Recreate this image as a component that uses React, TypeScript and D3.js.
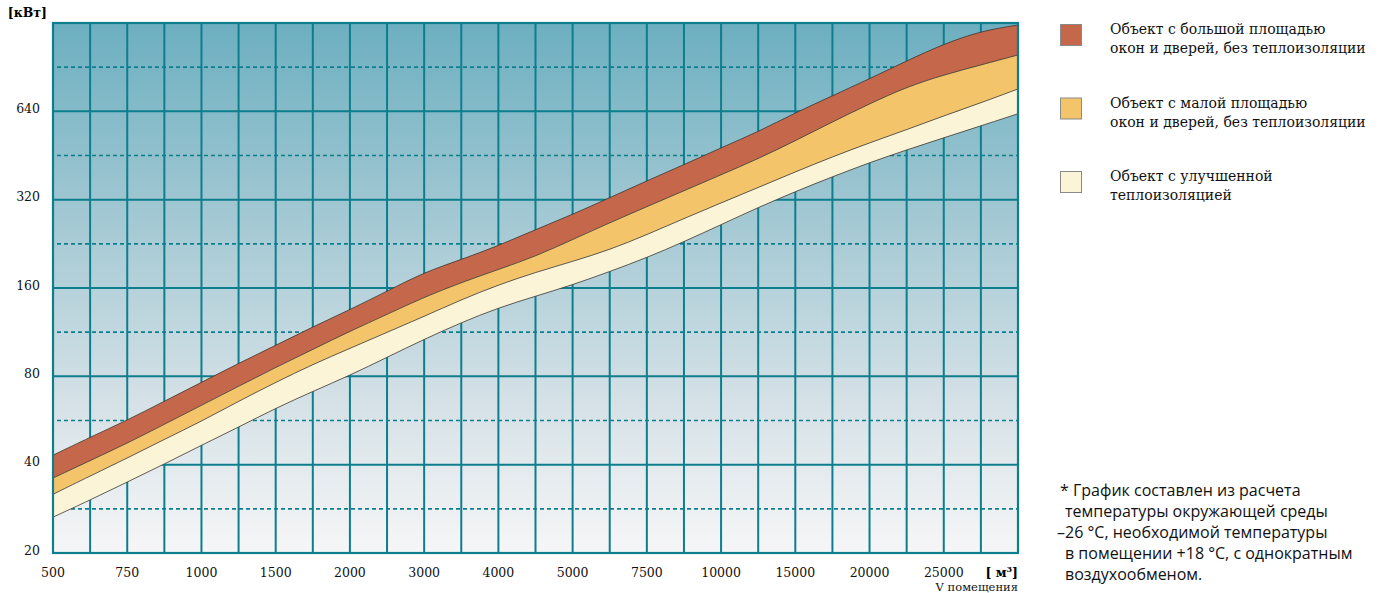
import React from "react";
import * as d3 from "d3";

// x categories (room volume, m³) — evenly spaced, not proportional
const volumeLabels = ["500", "750", "1000", "1500", "2000", "3000", "4000", "5000", "7500", "10000", "15000", "20000", "25000"];
const kwTicks = [20, 40, 80, 160, 320, 640];

// curve boundaries in kW, read every half category step (0, 0.5 … 13)
const bigWindowsTop = [43.1, 49.6, 56.7, 65.8, 76.3, 88.6, 102, 118, 135, 156, 181, 200, 223, 253, 285, 325, 371, 421, 481, 545, 633, 723, 826, 951, 1086, 1202, 1260];
const bigToSmall = [36.0, 41.3, 47.3, 54.9, 63.7, 74.0, 85.8, 98.8, 114, 130, 149, 167, 185, 205, 234, 267, 303, 343, 389, 441, 508, 589, 679, 775, 852, 921, 996];
const smallToInsulated = [31.7, 36.6, 42.1, 48.8, 56.2, 65.8, 76.3, 87.9, 99.6, 113, 128, 146, 164, 181, 197, 216, 243, 276, 312, 352, 398, 448, 500, 554, 618, 684, 763];
const insulatedBottom = [26.5, 30.3, 34.9, 40.2, 46.6, 53.7, 62.3, 71.1, 80.6, 92.9, 107, 122, 137, 150, 164, 182, 203, 230, 263, 301, 341, 383, 428, 473, 520, 571, 628];

const legendItems = [
    { color: "#c4674a", lines: ["Объект с большой площадью", "окон и дверей, без теплоизоляции"] },
    { color: "#f4c46a", lines: ["Объект с малой площадью", "окон и дверей, без теплоизоляции"] },
    { color: "#fbf4d6", lines: ["Объект с улучшенной", "теплоизоляцией"] },
];

const noteLines = [
    { text: "* График составлен из расчета", dx: 0 },
    { text: "температуры окружающей среды", dx: 5 },
    { text: "–26 °C, необходимой температуры", dx: -3 },
    { text: "в помещении +18 °C, с однократным", dx: 5 },
    { text: "воздухообменом.", dx: 5 },
];

const W = 1398;
const H = 593;
const left = 53;
const right = 1018;
const top = 23;
const bottom = 553;
const gridColor = "#0d7e8d";
const serif = "'DejaVu Serif', 'Liberation Serif', serif";

const App = () => {
    const x = d3.scaleLinear().domain([0, 13]).range([left, right]);
    const y = d3.scaleLog().base(2).domain([20, 1280]).range([bottom, top]);

    const pos = bigWindowsTop.map((_, i) => i * 0.5);
    const idx = pos.map((_, i) => i);

    const band = (upper: number[], lower: number[]) =>
        d3
            .area<number>()
            .x((d) => x(pos[d]))
            .y0((d) => y(lower[d]))
            .y1((d) => y(upper[d]))
            .curve(d3.curveBasis)(idx) || "";

    const line = (vals: number[]) =>
        d3
            .line<number>()
            .x((d) => x(pos[d]))
            .y((d) => y(vals[d]))
            .curve(d3.curveBasis)(idx) || "";

    const verticals = d3.range(0, 13.5, 0.5);
    const solidY = [40, 80, 160, 320, 640];
    const dashedY = [20, 40, 80, 160, 320, 640].map((v) => v * Math.SQRT2);

    return (
        <div style={{ position: "absolute", left: 0, top: 0 }}>
            <svg width={W} height={H} style={{ display: "block" }}>
                <defs>
                    <linearGradient id="bg" x1="0" y1="0" x2="0" y2="1">
                        <stop offset="0%" stopColor="#6cafc0" />
                        <stop offset="35%" stopColor="#a0c7d2" />
                        <stop offset="70%" stopColor="#d3e0e6" />
                        <stop offset="100%" stopColor="#f6f6f7" />
                    </linearGradient>
                </defs>
                <rect x={left} y={top} width={right - left} height={bottom - top} fill="url(#bg)" />

                {dashedY.map((v) => (
                    <line key={"d" + v} x1={left + 4} x2={right} y1={y(v)} y2={y(v)} stroke={gridColor} strokeWidth={1.7} strokeDasharray="4 3" />
                ))}
                {solidY.map((v) => (
                    <line key={"s" + v} x1={left} x2={right} y1={y(v)} y2={y(v)} stroke={gridColor} strokeWidth={2} />
                ))}
                {verticals.map((v) => (
                    <line key={"v" + v} x1={x(v)} x2={x(v)} y1={top} y2={bottom} stroke={gridColor} strokeWidth={2} />
                ))}

                <path d={band(bigWindowsTop, bigToSmall)} fill="#c4674a" />
                <path d={band(bigToSmall, smallToInsulated)} fill="#f4c46a" />
                <path d={band(smallToInsulated, insulatedBottom)} fill="#fbf4d6" />
                {[bigWindowsTop, bigToSmall, smallToInsulated, insulatedBottom].map((vals, i) => (
                    <path key={"l" + i} d={line(vals)} fill="none" stroke="#3b3530" strokeWidth={0.8} />
                ))}

                <rect x={left} y={top} width={right - left} height={bottom - top} fill="none" stroke={gridColor} strokeWidth={2.2} />

                {/* y axis */}
                <text x={47} y={17} textAnchor="end" fontFamily={serif} fontSize={12.5} fontWeight="bold">[кВт]</text>
                {kwTicks.map((v) => (
                    <text key={"yt" + v} x={40} y={y(v) - 2} textAnchor="end" dominantBaseline="middle" fontFamily={serif} fontSize={12.5} fill="#111">
                        {v}
                    </text>
                ))}

                {/* x axis */}
                {volumeLabels.map((t, i) => (
                    <text key={"xt" + t} x={x(i)} y={577} textAnchor="middle" fontFamily={serif} fontSize={12.5} fill="#111">
                        {t}
                    </text>
                ))}
                <text x={right} y={577} textAnchor="end" fontFamily={serif} fontSize={12.5} fontWeight="bold">
                    [ м<tspan dy={-5} fontSize={8}>3</tspan><tspan dy={5}>]</tspan>
                </text>
                <text x={right} y={591} textAnchor="end" fontFamily={serif} fontSize={11.5} fill="#111">V помещения</text>

                {/* legend */}
                {legendItems.map((item, i) => (
                    <g key={"lg" + i} transform={`translate(1060, ${24 + i * 73.5})`}>
                        <rect x={0.5} y={0.5} width={21} height={21} fill={item.color} stroke="#8a8a8a" strokeWidth={1} />
                        {item.lines.map((l, j) => (
                            <text key={j} x={50} y={10 + j * 19} fontFamily={serif} fontSize={14} fill="#111">
                                {l}
                            </text>
                        ))}
                    </g>
                ))}

                {/* footnote */}
                {noteLines.map((n, i) => (
                    <text key={"n" + i} x={1060 + n.dx} y={496 + i * 21} fontFamily="'Open Sans', 'Noto Sans', sans-serif" fontSize={16} fill="#111">
                        {n.text}
                    </text>
                ))}
            </svg>
        </div>
    );
};

export default App;
